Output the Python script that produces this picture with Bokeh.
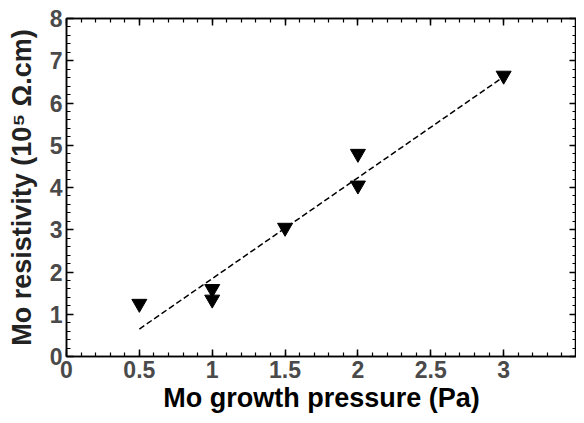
from bokeh.plotting import figure
from bokeh.models import LinearAxis, FixedTicker, Range1d
from bokeh.embed import file_html
from bokeh.resources import INLINE

# Data
pressure = [0.5, 1.0, 1.0, 1.5, 2.0, 2.0, 3.0]
resistivity = [1.25, 1.6, 1.35, 3.05, 4.8, 4.05, 6.65]
fit_x = [0.5, 3.0]
fit_y = [0.65, 6.62]

x_ticks = [0, 0.5, 1, 1.5, 2, 2.5, 3]
x_tick_labels = ["0", "0.5", "1", "1.5", "2", "2.5", "3"]
y_ticks = [0, 1, 2, 3, 4, 5, 6, 7, 8]
y_tick_labels = ["0", "1", "2", "3", "4", "5", "6", "7", "8"]
x_minor = [round(i * 0.1, 1) for i in range(0, 36)]
y_minor = [round(i * 0.2, 1) for i in range(0, 41)]

FONT = "Liberation Sans"

p = figure(width=576, height=415, output_backend="svg", toolbar_location=None,
           x_range=Range1d(0, 3.5), y_range=Range1d(0, 8),
           min_border_left=66, min_border_right=0, min_border_top=18, min_border_bottom=55)
p.grid.visible = False
p.outline_line_color = "black"
p.outline_line_width = 1.5
p.background_fill_color = "white"
p.border_fill_color = "white"

p.line(fit_x, fit_y, line_color="black", line_width=1.5, line_dash="6 3")
p.scatter(pressure, resistivity, marker="inverted_triangle", size=15,
          fill_color="black", line_color="black")

def style(ax, ticks, minor, labels, show_labels=True):
    ax.ticker = FixedTicker(ticks=ticks, minor_ticks=minor)
    ax.major_tick_in = 7
    ax.major_tick_out = 0
    ax.minor_tick_in = 4
    ax.minor_tick_out = 0
    ax.major_tick_line_color = "black"
    ax.minor_tick_line_color = "black"
    ax.major_tick_line_width = 1.5
    ax.minor_tick_line_width = 1.2
    ax.axis_line_color = "black"
    ax.axis_line_width = 1.5
    if show_labels:
        ax.major_label_overrides = dict(zip(ticks, labels))
        ax.major_label_text_font = FONT
        ax.major_label_text_font_style = "bold"
        ax.major_label_text_font_size = "23px"
        ax.major_label_text_color = "#4a4a4a"
    else:
        ax.major_label_text_font_size = "0px"
        ax.major_label_text_alpha = 0
        ax.major_label_standoff = 0

xa = p.xaxis[0]
style(xa, x_ticks, x_minor, x_tick_labels)
xa.major_label_standoff = 4
xa.axis_label = "Mo growth pressure (Pa)"
xa.axis_label_text_font = FONT
xa.axis_label_text_font_style = "bold"
xa.axis_label_text_font_size = "27px"
xa.axis_label_text_color = "black"
xa.axis_label_standoff = 2

ya = p.yaxis[0]
style(ya, y_ticks, y_minor, y_tick_labels)
ya.major_label_standoff = 4
ya.axis_label = "Mo resistivity (10\u2075 \u03a9.cm)"
ya.axis_label_text_font = FONT
ya.axis_label_text_font_style = "bold"
ya.axis_label_text_font_size = "27px"
ya.axis_label_text_color = "#222222"
ya.axis_label_standoff = 10

top = LinearAxis()
style(top, x_ticks, x_minor, x_tick_labels, show_labels=False)
p.add_layout(top, "above")
right = LinearAxis()
style(right, y_ticks, y_minor, y_tick_labels, show_labels=False)
p.add_layout(right, "right")

open("out.html", "w").write(file_html(p, INLINE))
